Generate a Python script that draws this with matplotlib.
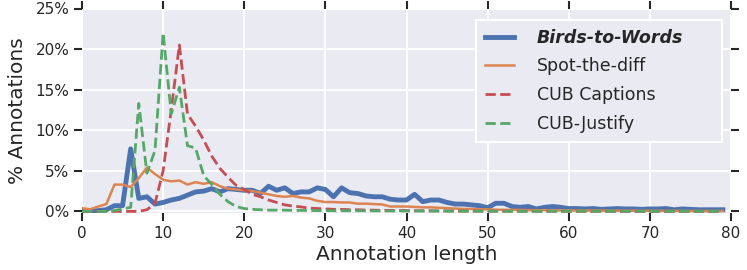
import matplotlib
matplotlib.use("Agg")
import matplotlib.pyplot as plt
from matplotlib.ticker import PercentFormatter
import numpy as np

# annotation length bins 0..79, values in % of annotations
birds = [0.0, 0.0, 0.1, 0.2, 0.7, 0.7, 7.7, 1.6, 1.8, 0.9,
         1.1, 1.4, 1.6, 2.0, 2.4, 2.5, 2.8, 2.4, 2.8, 2.7,
         2.6, 2.6, 2.2, 3.1, 2.6, 2.9, 2.2, 2.4, 2.4, 2.9,
         2.7, 1.8, 2.9, 2.3, 2.2, 1.9, 1.8, 1.8, 1.5, 1.4,
         1.4, 2.1, 1.2, 1.4, 1.4, 1.1, 0.9, 0.9, 0.8, 0.7,
         0.45, 1.0, 1.0, 0.6, 0.5, 0.6, 0.3, 0.5, 0.6, 0.5,
         0.35, 0.35, 0.3, 0.35, 0.25, 0.3, 0.35, 0.3, 0.3, 0.25,
         0.3, 0.3, 0.35, 0.2, 0.3, 0.25, 0.2, 0.2, 0.2, 0.2]
spot = [0.4, 0.25, 0.6, 0.9, 3.3, 3.3, 3.0, 4.1, 5.4, 4.6,
        3.9, 3.7, 3.8, 3.3, 3.6, 3.4, 3.6, 3.1, 2.8, 2.7,
        2.6, 2.5, 2.3, 2.1, 1.9, 1.8, 1.9, 1.7, 1.6, 1.3,
        1.15, 1.15, 1.1, 1.1, 0.95, 0.95, 0.9, 0.85, 0.6, 0.6,
        0.6, 0.55, 0.5, 0.5, 0.45, 0.4, 0.35, 0.3, 0.3, 0.25,
        0.25, 0.2, 0.2, 0.18, 0.18, 0.15, 0.15, 0.15, 0.12, 0.12,
        0.12, 0.1, 0.1, 0.1, 0.1, 0.08, 0.08, 0.08, 0.08, 0.07,
        0.07, 0.06, 0.06, 0.06, 0.05, 0.05, 0.05, 0.05, 0.05, 0.05]
cub_cap = [0, 0, 0, 0, 0, 0, 0, 0, 0.2, 1.0,
           5.0, 12.5, 20.5, 12.0, 10.5, 8.8, 6.8, 5.3, 4.2, 3.2,
           2.7, 2.1, 1.8, 1.4, 1.1, 0.8, 0.65, 0.55, 0.4, 0.35,
           0.3, 0.25, 0.25, 0.2, 0.2, 0.15, 0.15, 0.12, 0.12, 0.1,
           0.1, 0.08, 0.08, 0.07, 0.06, 0.05, 0.05, 0.04, 0.04, 0.03,
           0.03, 0.03, 0.02, 0.02, 0.02, 0.02, 0.01, 0.01, 0.01, 0.01,
           0, 0, 0, 0, 0, 0, 0, 0, 0, 0,
           0, 0, 0, 0, 0, 0, 0, 0, 0, 0]
cub_just = [0, 0, 0, 0, 0.1, 0.3, 0.5, 13.3, 4.7, 7.5,
            22.0, 12.0, 15.3, 8.1, 7.8, 4.4, 3.3, 2.1, 1.2, 0.6,
            0.35, 0.25, 0.2, 0.15, 0.15, 0.15, 0.12, 0.12, 0.1, 0.1,
            0.1, 0.08, 0.08, 0.08, 0.07, 0.07, 0.06, 0.06, 0.05, 0.05,
            0.05, 0.05, 0.04, 0.04, 0.04, 0.04, 0.03, 0.03, 0.03, 0.03,
            0.03, 0.03, 0.02, 0.02, 0.02, 0.02, 0.02, 0.02, 0.02, 0.02,
            0.02, 0.02, 0.02, 0.02, 0.02, 0.02, 0.02, 0.02, 0.02, 0.02,
            0.02, 0.02, 0.02, 0.02, 0.02, 0.02, 0.02, 0.02, 0.02, 0.02]
lengths = np.arange(len(birds))

plt.rcParams['font.family'] = ['DejaVu Sans']
fig = plt.figure(figsize=(7.47, 2.70), dpi=100)
ax = fig.add_axes([82/747, 1-213/270, (731-82)/747, 204.5/270])
ax.set_facecolor('#EAEAF2')
for s in ax.spines.values():
    s.set_visible(False)
ax.grid(True, color='white', linewidth=1.4)
ax.set_axisbelow(True)

ax.plot(lengths, birds, color='#4C72B0', lw=3.5, label='Birds-to-Words')
ax.plot(lengths, spot, color='#DD8452', lw=1.8, label='Spot-the-diff')
ax.plot(lengths, cub_cap, color='#C44E52', lw=2.0, ls='--', label='CUB Captions')
ax.plot(lengths, cub_just, color='#55A868', lw=2.0, ls='--', label='CUB-Justify')

ax.set_xlim(0, 80)
ax.set_ylim(-0.2, 25)
ax.set_xticks(range(0, 81, 10))
ax.set_yticks(range(0, 26, 5))
ax.yaxis.set_major_formatter(PercentFormatter(decimals=0))
ax.tick_params(direction='out', length=6, width=1.5, color='#262626',
               labelsize=11, labelcolor='#262626',
               top=True, right=True, pad=3)
ax.set_xlabel('Annotation length', fontsize=14.5, color='#262626', labelpad=3)
ax.set_ylabel('% Annotations', fontsize=14.5, color='#262626', labelpad=6)

# legend box stretched to the reference's frame
leg = ax.legend(loc='upper left', bbox_to_anchor=(0.607, 0.342, 0.379, 0.602),
                mode='expand', borderaxespad=0, fontsize=12.5,
                handlelength=1.7, handletextpad=1.3, borderpad=0.5,
                labelspacing=0.62, frameon=True, fancybox=False,
                facecolor='#EAEAF2', edgecolor='white', framealpha=1)
leg.get_frame().set_linewidth(1.5)
for t in leg.get_texts():
    t.set_color('#262626')
leg.get_texts()[0].set_fontweight('bold')
leg.get_texts()[0].set_fontstyle('italic')

fig.savefig('out.png', dpi=100)
